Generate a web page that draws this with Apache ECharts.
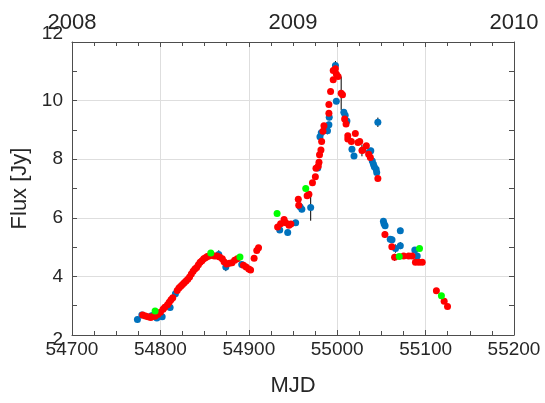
<!DOCTYPE html>
<html>
<head>
<meta charset="utf-8">
<script src="https://cdn.jsdelivr.net/npm/echarts@6/dist/echarts.min.js"></script>
<style>
  html, body { margin: 0; padding: 0; background: #fff; }
  #chart { width: 545px; height: 403px; }
</style>
</head>
<body>
<div id="chart"></div>
<script>
// Light curve: flux density vs. MJD, three instruments, with 1-sigma errors.
// Each point is [MJD, flux (Jy), error (Jy)].
const bluePoints = [
  [54774, 2.53, 0.1], [54779, 2.68, 0.1], [54790, 2.66, 0.1], [54796, 2.58, 0.1],
  [54802, 2.62, 0.1], [54811, 2.94, 0.1], [54817, 3.41, 0.12], [54866, 4.75, 0.14],
  [54874, 4.32, 0.14], [54892, 4.41, 0.1], [54935, 5.58, 0.1], [54944, 5.5, 0.1],
  [54953, 5.83, 0.1], [54958, 6.38, 0.1], [54960, 6.29, 0.1], [54970, 6.35, 0.45],
  [54978, 7.7, 0.1], [54980.5, 8.77, 0.12], [54982, 8.9, 0.1], [54989, 8.97, 0.12],
  [54990.6, 9.18, 0.1], [54991, 9.43, 0.1], [54998, 11.2, 0.15], [54999, 9.98, 0.1],
  [55007.5, 9.6, 0.1], [55009, 9.5, 0.1], [55011, 9.3, 0.1], [55016.7, 8.34, 0.1],
  [55019, 8.11, 0.1], [55036, 8.23, 0.1], [55038, 8.29, 0.1], [55039.7, 7.94, 0.1],
  [55041, 7.83, 0.1], [55042, 7.74, 0.1], [55044, 7.66, 0.1], [55044.7, 7.55, 0.1],
  [55046, 9.26, 0.16], [55052.3, 5.88, 0.1], [55053, 5.8, 0.1], [55054.2, 5.73, 0.1],
  [55060, 5.27, 0.1], [55062, 5.25, 0.1], [55066, 4.95, 0.14], [55071.4, 5.56, 0.1],
  [55071.4, 5.05, 0.12], [55087.8, 4.9, 0.1], [55090.5, 4.7, 0.1]
];
const redPoints = [
  [54780, 2.68, 0.08], [54783, 2.65, 0.08], [54786, 2.62, 0.08], [54789, 2.6, 0.08],
  [54791, 2.63, 0.08], [54794, 2.64, 0.08], [54797, 2.7, 0.08], [54800, 2.78, 0.08],
  [54803, 2.88, 0.08], [54805, 2.95, 0.08], [54808, 3.03, 0.08], [54810, 3.12, 0.08],
  [54812, 3.2, 0.08], [54814, 3.27, 0.08], [54819, 3.52, 0.08], [54821, 3.6, 0.08],
  [54823, 3.66, 0.08], [54825, 3.72, 0.08], [54827, 3.78, 0.08], [54829, 3.84, 0.08],
  [54831, 3.9, 0.08], [54833, 3.98, 0.08], [54835, 4.08, 0.08], [54837, 4.18, 0.08],
  [54839, 4.25, 0.08], [54841, 4.3, 0.08], [54843, 4.4, 0.08], [54845, 4.48, 0.08],
  [54847, 4.53, 0.08], [54849, 4.6, 0.08], [54851, 4.64, 0.08], [54853, 4.68, 0.08],
  [54855, 4.7, 0.08], [54858, 4.72, 0.08], [54861, 4.7, 0.08], [54864, 4.7, 0.08],
  [54867, 4.66, 0.08], [54870, 4.6, 0.08], [54872, 4.5, 0.08], [54875, 4.42, 0.08],
  [54878, 4.45, 0.08], [54881, 4.47, 0.08], [54884, 4.55, 0.08], [54887, 4.6, 0.08],
  [54894, 4.38, 0.08], [54897, 4.32, 0.08], [54900, 4.25, 0.08], [54902, 4.22, 0.08],
  [54906, 4.62, 0.08], [54909, 4.88, 0.08], [54911, 4.98, 0.08], [54932.6, 5.69, 0.08],
  [54936, 5.8, 0.08], [54939.9, 5.94, 0.08], [54941.8, 5.83, 0.08], [54945.5, 5.75, 0.08],
  [54947.6, 5.79, 0.08], [54956, 6.63, 0.08], [54956.5, 6.43, 0.08], [54966, 6.75, 0.08],
  [54968, 6.8, 0.08], [54972, 7.2, 0.08], [54975.3, 7.4, 0.08], [54976, 7.69, 0.08],
  [54978.6, 7.77, 0.08], [54979.4, 7.9, 0.08], [54980, 8.15, 0.08], [54981.6, 8.31, 0.08],
  [54982.4, 8.6, 0.08], [54983.9, 8.95, 0.08], [54985, 9.14, 0.08], [54990.6, 9.57, 0.08],
  [54990.6, 9.87, 0.08], [54992.5, 10.31, 0.08], [54995.5, 10.71, 0.08], [54995.5, 11.03, 0.08],
  [54998, 11.09, 0.08], [54999, 10.91, 0.08], [55001, 10.82, 0.08], [55004.5, 10.25, 0.57],
  [55006, 10.2, 0.08], [55008.4, 9.37, 0.08], [55010, 9.2, 0.08], [55012, 8.8, 0.08],
  [55012, 8.69, 0.08], [55016, 8.6, 0.08], [55020.5, 8.88, 0.08], [55023.5, 8.57, 0.08],
  [55025.5, 8.6, 0.08], [55028, 8.3, 0.2], [55029, 8.31, 0.08], [55033, 8.46, 0.08],
  [55035.6, 8.17, 0.08], [55037.5, 8.06, 0.08], [55046, 7.34, 0.08], [55054, 5.43, 0.12],
  [55061.8, 5.01, 0.08], [55064.9, 4.65, 0.12], [55075.2, 4.7, 0.08], [55080.9, 4.7, 0.08],
  [55084.7, 4.7, 0.08], [55088.5, 4.48, 0.08], [55092.4, 4.48, 0.08], [55096.2, 4.48, 0.08],
  [55112.2, 3.51, 0.08], [55121, 3.15, 0.08], [55124.8, 2.97, 0.08]
];
const greenPoints = [
  [54794, 2.82], [54857, 4.8], [54890, 4.66], [54932, 6.15],
  [54964.4, 7.0], [55070.2, 4.68], [55093.1, 4.95], [55117.9, 3.34]
];
// Axis ranges and the calendar years labelled along the top
const mjdRange = [54700, 55200];
const fluxRange = [2, 12];
const yearTicks = [2008, 2009, 2010];

const FONT = "'Liberation Sans', Arial, Helvetica, sans-serif";
const TEXT = '#262626';
const AXIS = '#4d4d4d';
const GRID = '#dedede';
const TICK_FONT = 19;
const NAME_FONT = 22;

const chart = echarts.init(document.getElementById('chart'));

function errorBarItem(params, api) {
  const x = api.value(0), y = api.value(1), e = api.value(2);
  const lo = api.coord([x, y - e]);
  const hi = api.coord([x, y + e]);
  return {
    type: 'line',
    shape: { x1: lo[0], y1: lo[1], x2: hi[0], y2: hi[1] },
    style: { stroke: '#000', lineWidth: 1 }
  };
}

const tickText = { fontSize: TICK_FONT, color: TEXT, fontFamily: FONT };

const mjdAxisBase = {
  type: 'value', min: mjdRange[0], max: mjdRange[1], interval: 100,
  axisLine: { show: true, lineStyle: { color: AXIS, width: 1 } },
  axisTick: { show: true, inside: true, length: 5, lineStyle: { color: AXIS } },
  minorTick: { show: true, splitNumber: 4, length: 4, lineStyle: { color: AXIS } }
};

const fluxAxisBase = {
  type: 'value', min: fluxRange[0], max: fluxRange[1], interval: 2,
  axisLine: { show: true, lineStyle: { color: AXIS, width: 1 } },
  axisTick: { show: true, inside: true, length: 5, lineStyle: { color: AXIS } },
  minorTick: { show: true, splitNumber: 2, length: 5, lineStyle: { color: AXIS } }
};

chart.setOption({
  animation: false,
  backgroundColor: '#ffffff',
  textStyle: { fontFamily: FONT },
  grid: { left: 72, right: 31, top: 42, bottom: 68, containLabel: false },
  xAxis: [
    Object.assign({}, mjdAxisBase, {
      position: 'bottom',
      name: 'MJD', nameLocation: 'middle', nameGap: 40,
      nameTextStyle: { fontSize: NAME_FONT, color: TEXT, fontFamily: FONT },
      axisLabel: Object.assign({ margin: 5, formatter: v => String(v) }, tickText),
      splitLine: { show: true, lineStyle: { color: GRID, width: 1 } }
    }),
    Object.assign({}, mjdAxisBase, {
      position: 'top',
      axisLabel: { show: false },
      splitLine: { show: false }
    }),
    {
      type: 'value', position: 'top', min: yearTicks[0], max: yearTicks[yearTicks.length - 1],
      interval: 1,
      axisLine: { show: false }, axisTick: { show: false }, splitLine: { show: false },
      axisLabel: { fontSize: NAME_FONT, color: TEXT, margin: 8, fontFamily: FONT,
                   formatter: v => String(v) }
    }
  ],
  yAxis: [
    Object.assign({}, fluxAxisBase, {
      position: 'left',
      name: 'Flux [Jy]', nameLocation: 'middle', nameGap: 38,
      nameTextStyle: { fontSize: NAME_FONT, color: TEXT, fontFamily: FONT },
      axisLabel: Object.assign({
        margin: 9,
        // the end labels sit a little beyond the frame corners
        formatter: v => v === fluxRange[1] ? '{hi|' + v + '}'
                      : v === fluxRange[0] ? '{lo|' + v + '}' : String(v),
        rich: {
          hi: Object.assign({ padding: [0, 0, 16, 0] }, tickText),
          lo: Object.assign({ padding: [10, 0, 0, 0] }, tickText)
        }
      }, tickText),
      splitLine: { show: true, lineStyle: { color: GRID, width: 1 } }
    }),
    Object.assign({}, fluxAxisBase, {
      position: 'right',
      axisLabel: { show: false },
      splitLine: { show: false }
    })
  ],
  series: [
    {
      type: 'custom', name: 'blue errors', xAxisIndex: 0, yAxisIndex: 0, z: 1,
      renderItem: errorBarItem, data: bluePoints
    },
    {
      type: 'custom', name: 'red errors', xAxisIndex: 0, yAxisIndex: 0, z: 1,
      renderItem: errorBarItem, data: redPoints
    },
    {
      type: 'scatter', xAxisIndex: 0, yAxisIndex: 0, z: 2,
      symbolSize: 7, itemStyle: { color: '#0072bd', opacity: 1 },
      data: bluePoints.map(p => [p[0], p[1]])
    },
    {
      type: 'scatter', xAxisIndex: 0, yAxisIndex: 0, z: 3,
      symbolSize: 7, itemStyle: { color: '#ff0000', opacity: 1 },
      data: redPoints.map(p => [p[0], p[1]])
    },
    {
      type: 'scatter', xAxisIndex: 0, yAxisIndex: 0, z: 4,
      symbolSize: 7, itemStyle: { color: '#00ff00', opacity: 1 },
      data: greenPoints
    }
  ]
});
</script>
</body>
</html>
